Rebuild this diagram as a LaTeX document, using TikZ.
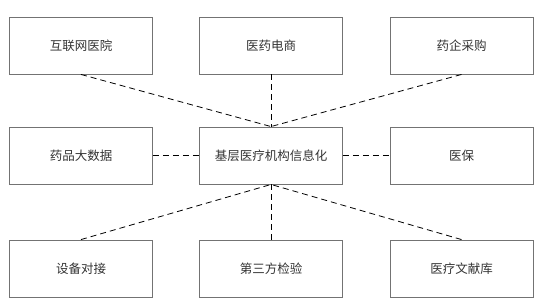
\documentclass[tikz,border=0pt]{standalone}
\usepackage{fontspec}
\newfontfamily\cjk{Noto Sans CJK SC}
\begin{document}
\begin{tikzpicture}[x=1pt,y=-1pt,
  box/.style={draw=black!55,line width=0.9pt,minimum width=143pt,minimum height=57pt,inner sep=0pt,font=\cjk\fontsize{12.5}{14}\selectfont,text=black!80},
  link/.style={draw=black,line width=0.8pt,dash pattern=on 6pt off 4pt}]
\useasboundingbox (0,0) rectangle (534,298);
\node[box] (a) at (81,45.5) {互联网医院};
\node[box] (b) at (271,45.5) {医药电商};
\node[box] (c) at (461.5,45.5) {药企采购};
\node[box] (d) at (81,155.5) {药品大数据};
\node[box] (e) at (271,155.5) {基层医疗机构信息化};
\node[box] (f) at (461.5,155.5) {医保};
\node[box] (g) at (81,268.5) {设备对接};
\node[box] (h) at (271,268.5) {第三方检验};
\node[box] (i) at (461.5,268.5) {医疗文献库};
\draw[link] (a.south) -- (e.north);
\draw[link] (b.south) -- (e.north);
\draw[link] (c.south) -- (e.north);
\draw[link] (d.east) -- (e.west);
\draw[link] (e.east) -- (f.west);
\draw[link] (g.north) -- (e.south);
\draw[link] (h.north) -- (e.south);
\draw[link] (i.north) -- (e.south);
\end{tikzpicture}
\end{document}
